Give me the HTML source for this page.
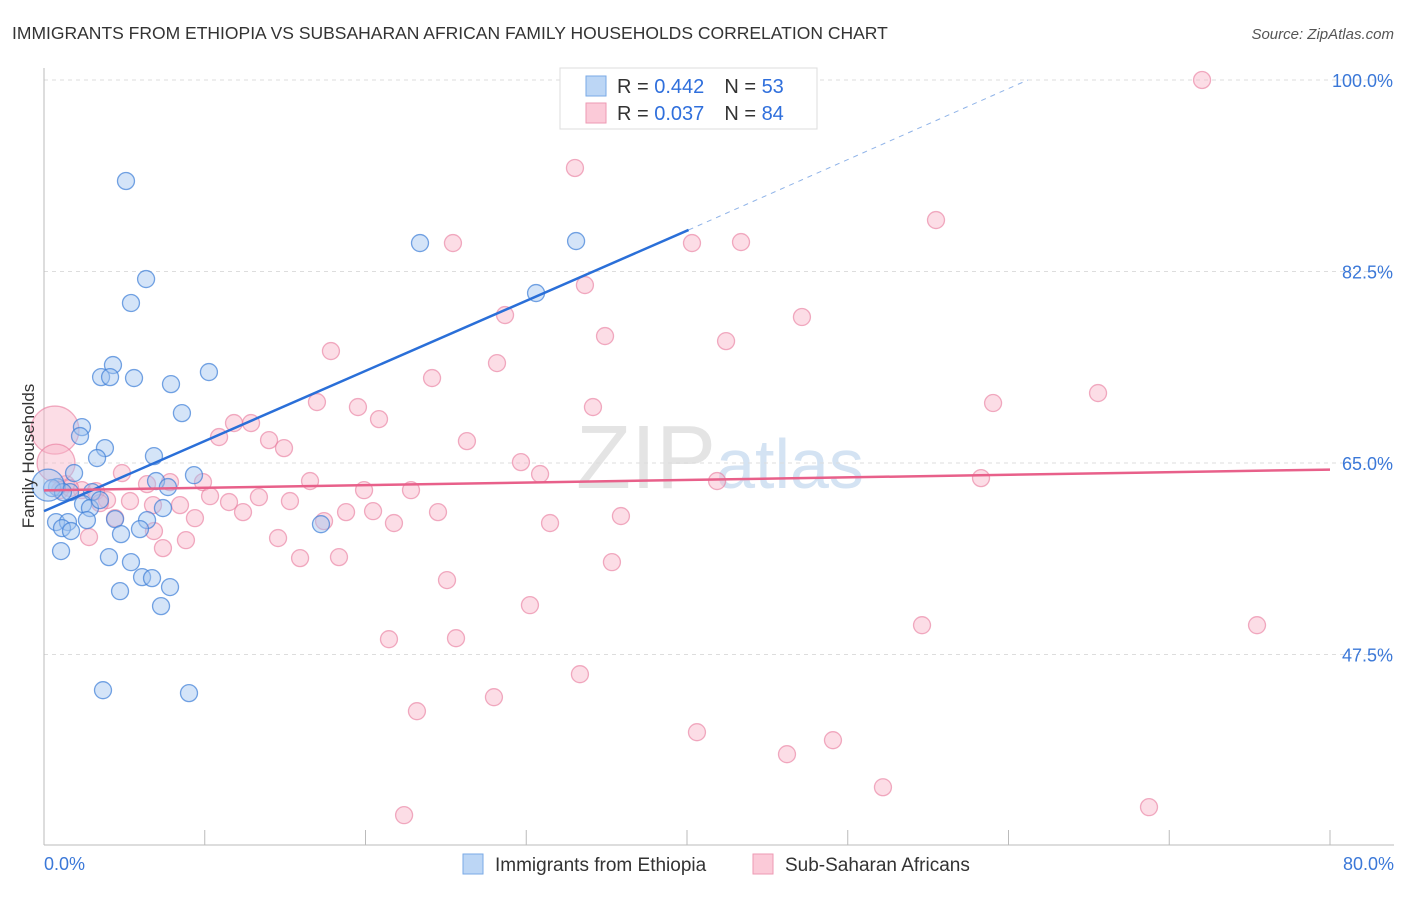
<!DOCTYPE html>
<html><head><meta charset="utf-8"><style>
body{margin:0;background:#fff;font-family:"Liberation Sans",sans-serif;}
svg text{font-family:"Liberation Sans",sans-serif;}
</style></head><body>
<svg id="chart" width="1406" height="892" viewBox="0 0 1406 892">
<text x="12" y="39" font-size="17.5" fill="#333">IMMIGRANTS FROM ETHIOPIA VS SUBSAHARAN AFRICAN FAMILY HOUSEHOLDS CORRELATION CHART</text>
<text x="1394" y="39" font-size="15" fill="#555" text-anchor="end" font-style="italic">Source: ZipAtlas.com</text>
<text x="720" y="488" font-size="90" text-anchor="middle" fill="#e4e4e4" font-family="Liberation Serif"><tspan>ZIP</tspan><tspan fill="#d4e3f3" font-family="Liberation Sans" font-size="70">atlas</tspan></text>
<g id="grid"></g><g id="axes"></g><g id="pink"></g><g id="blue"></g><g id="trend"></g>
<text transform="translate(34,456) rotate(-90)" font-size="17" fill="#333" text-anchor="middle">Family Households</text>
<g>
<rect x="560" y="68" width="257" height="61" fill="#fff" stroke="#ddd"/>
<rect x="586" y="76" width="20" height="20" fill="#bcd6f5" stroke="#7aaae6"/>
<rect x="586" y="103" width="20" height="20" fill="#fbcad8" stroke="#ee9ab3"/>
<text x="617" y="93" font-size="20" fill="#333">R = <tspan fill="#2f6fdc">0.442</tspan><tspan dx="20">N = </tspan><tspan fill="#2f6fdc">53</tspan></text>
<text x="617" y="120" font-size="20" fill="#333">R = <tspan fill="#2f6fdc">0.037</tspan><tspan dx="20">N = </tspan><tspan fill="#2f6fdc">84</tspan></text>
</g>
<g>
<rect x="463" y="854" width="20" height="20" fill="#bcd6f5" stroke="#7aaae6"/>
<text x="495" y="871" font-size="19" fill="#333">Immigrants from Ethiopia</text>
<rect x="753" y="854" width="20" height="20" fill="#fbcad8" stroke="#ee9ab3"/>
<text x="785" y="871" font-size="19" fill="#333">Sub-Saharan Africans</text>
</g>
</svg>
<script>
const yTicks=[100,82.5,65,47.5];
const yTickLabels=["100.0%","82.5%","65.0%","47.5%"];
const xTicks=[0,10,20,30,40,50,60,70,80];
const xEndLabels=["0.0%","80.0%"];
const blueX=[5.10,6.35,5.41,4.29,3.55,4.11,5.60,7.90,10.26,8.58,2.36,2.24,3.79,3.30,6.84,1.87,9.33,6.97,7.71,0.81,0.50,2.99,1.62,1.18,2.43,2.86,7.40,4.42,6.41,0.75,1.49,2.67,1.12,1.68,5.97,4.79,17.23,1.06,4.04,5.41,6.10,6.72,7.84,4.73,7.28,3.67,9.02,23.39,33.10,30.61,0.25,3.48];
const blueY=[90.77,81.81,79.62,73.95,72.85,72.85,72.76,72.21,73.31,69.56,68.28,67.46,66.36,65.45,65.63,64.08,63.89,63.35,62.80,62.80,62.71,62.34,62.34,62.34,61.24,60.88,60.88,59.87,59.78,59.60,59.60,59.78,59.05,58.78,58.96,58.50,59.41,56.95,56.40,55.94,54.57,54.48,53.66,53.29,51.92,44.24,43.97,85.10,85.28,80.53,62.98,61.61];
const blueR=blueX.map((v,i)=>i===50?16:8.5);
const pinkX=[72.04,33.03,55.49,25.44,40.31,43.36,33.65,28.68,47.15,34.90,42.43,17.85,28.18,24.14,65.57,59.04,16.98,19.53,34.15,20.84,12.88,11.82,10.89,14.00,14.93,26.31,29.67,30.86,4.85,16.55,9.89,7.84,6.41,19.91,22.83,41.87,58.29,1.37,2.36,3.23,10.33,13.37,15.30,5.35,3.92,6.78,11.51,8.46,18.79,20.47,12.38,24.51,4.42,9.39,21.77,17.42,31.48,35.89,6.84,2.80,8.83,14.56,7.40,15.93,18.35,35.33,25.07,30.23,54.62,75.46,21.46,25.63,33.34,27.99,23.20,40.62,49.08,46.22,52.19,68.74,22.40,0.68,0.75,1.00,1.62,3.48];
const pinkY=[100.0,91.96,87.20,85.10,85.10,85.19,81.26,78.52,78.34,76.60,76.14,75.23,74.13,72.76,71.39,70.48,70.57,70.11,70.11,69.01,68.65,68.65,67.37,67.09,66.36,67.00,65.08,63.99,64.08,63.35,63.25,63.25,63.07,62.52,62.52,63.35,63.62,63.07,62.52,62.43,61.97,61.88,61.52,61.52,61.61,61.15,61.43,61.15,60.51,60.60,60.51,60.51,59.96,59.96,59.51,59.69,59.51,60.15,58.78,58.23,57.95,58.14,57.22,56.31,56.40,55.94,54.30,52.01,50.18,50.18,48.90,48.99,45.70,43.60,42.32,40.40,39.67,38.39,35.37,33.55,32.82,68.01,64.99,62.52,62.71,61.33];
const pinkR=pinkX.map((v,i)=>i===81?24:(i===82?19:8.5));
const blueTrend=[0,60.6,40.1,86.3,61.2,100];
const pinkTrend=[0,62.5,80,64.4];
const X=v=>44+v*1286/80, Y=v=>80+(100-v)*191.5/17.5;
const NS="http://www.w3.org/2000/svg";
function mk(tag,attrs,parent,text){const e=document.createElementNS(NS,tag);for(const k in attrs)e.setAttribute(k,attrs[k]);if(text!=null)e.textContent=text;document.getElementById(parent).appendChild(e);return e;}
yTicks.forEach((t,i)=>{
 const g=mk('line',{x1:44,x2:1394,y1:Y(t),y2:Y(t),stroke:'#ddd','stroke-dasharray':'4,4'},'grid');
 
 
 const l=mk('text',{x:1393,y:Y(t)+7,'font-size':18,fill:'#3b78d8','text-anchor':'end'},'axes',yTickLabels[i]);
 
 
});
const ax=mk('line',{x1:44,x2:44,y1:68,y2:845,stroke:'#bbb'},'axes');


const bx=mk('line',{x1:44,x2:1394,y1:845,y2:845,stroke:'#bbb'},'axes');


xTicks.forEach(t=>{
 const tk=mk('line',{x1:X(t),x2:X(t),y1:830,y2:845,stroke:'#bbb'},'axes');
 
 
});
const xl0=mk('text',{x:44,y:870,'font-size':18,fill:'#3b78d8'},'axes',xEndLabels[0]);


const xl1=mk('text',{x:1394,y:870,'font-size':18,fill:'#3b78d8','text-anchor':'end'},'axes',xEndLabels[1]);


pinkX.forEach((v,i)=>{
 const c=mk('circle',{cx:X(v),cy:Y(pinkY[i]),r:pinkR[i],fill:'rgba(248,180,200,0.45)',stroke:'rgba(232,120,155,0.6)','stroke-width':1.3},'pink');
 
 
});
blueX.forEach((v,i)=>{
 const c=mk('circle',{cx:X(v),cy:Y(blueY[i]),r:blueR[i],fill:'rgba(160,195,240,0.45)',stroke:'rgba(60,125,215,0.7)','stroke-width':1.3},'blue');
 
 
});
const t1=mk('line',{x1:X(blueTrend[0]),y1:Y(blueTrend[1]),x2:X(blueTrend[2]),y2:Y(blueTrend[3]),stroke:'#2a6fd8','stroke-width':2.5},'trend');


const t2=mk('line',{x1:X(blueTrend[2]),y1:Y(blueTrend[3]),x2:X(blueTrend[4]),y2:Y(blueTrend[5]),stroke:'#8fb3e8','stroke-width':1,'stroke-dasharray':'5,5'},'trend');


const t3=mk('line',{x1:X(pinkTrend[0]),y1:Y(pinkTrend[1]),x2:X(pinkTrend[2]),y2:Y(pinkTrend[3]),stroke:'#e8608a','stroke-width':2.5},'trend');


</script>
</body></html>
